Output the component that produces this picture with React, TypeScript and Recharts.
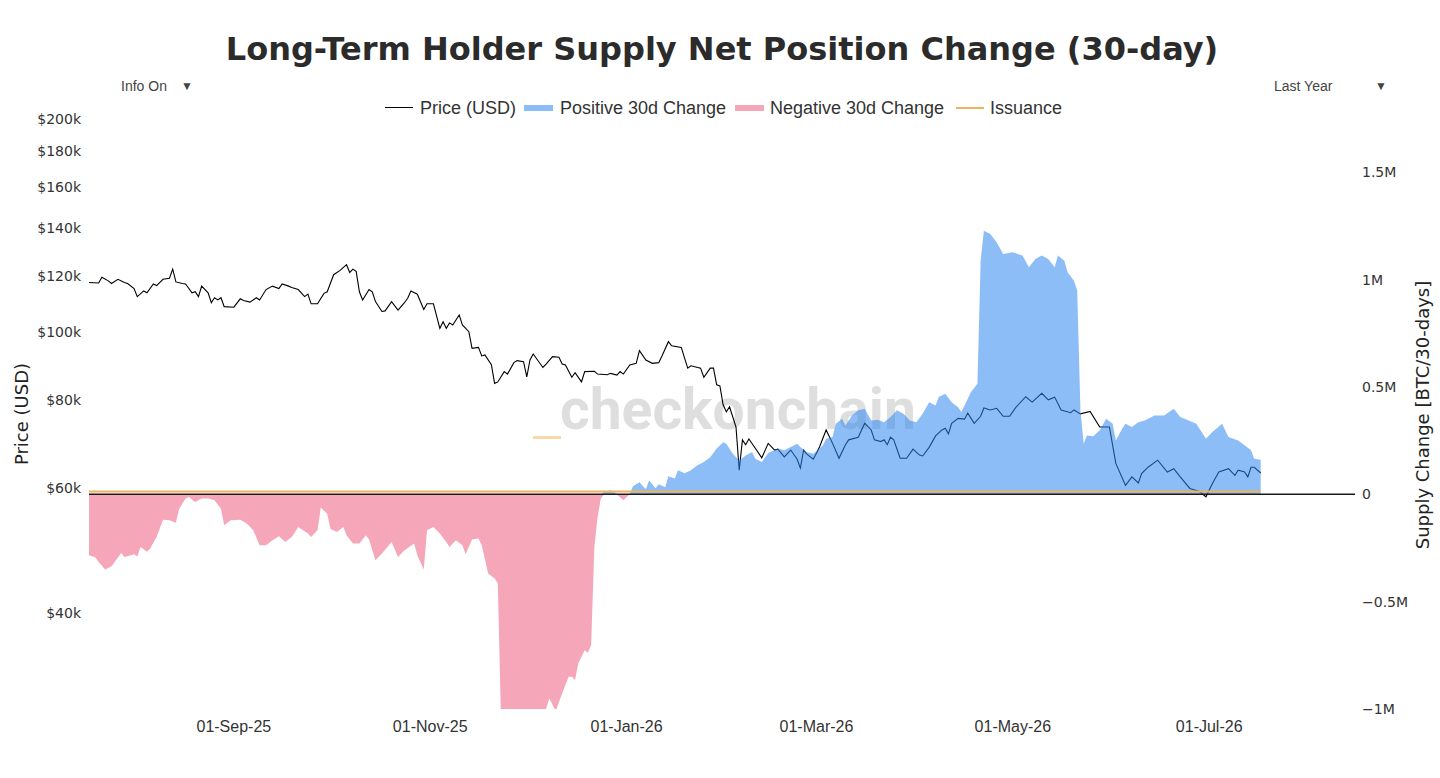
import React from "react";
import { ComposedChart, Line, Area, XAxis, YAxis, ReferenceLine } from "recharts";

// Day 0 of every series is 18-Jul-2025
const START_UTC = Date.UTC(2025, 6, 18);
const DAY_MS = 86400000;
const MONTHS = ["Jan", "Feb", "Mar", "Apr", "May", "Jun", "Jul", "Aug", "Sep", "Oct", "Nov", "Dec"];

// BTC price, USD thousands
const priceDays = [
  0, 3, 4, 6, 7, 9, 11, 12, 14, 15,
  17, 18, 20, 21, 23, 25, 26, 27, 29, 30,
  32, 33, 34, 35, 37, 38, 39, 40, 41, 42,
  45, 47, 48, 50, 52, 53, 55, 57, 59, 60,
  62, 63, 65, 67, 68, 69, 71, 73, 74, 76,
  78, 80, 81, 82, 83, 84, 85, 87, 88, 89,
  91, 92, 94, 96, 98, 99, 100, 102, 104, 105,
  107, 109, 110, 111, 112, 113, 115, 116, 118, 119,
  121, 122, 123, 125, 126, 127, 129, 130, 132, 133,
  135, 136, 137, 138, 141, 142, 144, 146, 147, 148,
  150, 151, 153, 154, 157, 158, 161, 162, 164, 165,
  166, 168, 170, 171, 173, 175, 177, 178, 180, 181,
  184, 186, 187, 190, 191, 193, 194, 195, 196, 197,
  198, 199, 201, 202, 203, 204, 205, 207, 209, 211,
  213, 214, 216, 218, 220, 221, 222, 223, 225, 226,
  227, 229, 231, 233, 235, 236, 239, 240, 241, 243,
  244, 246, 247, 248, 249, 250, 252, 254, 256, 258,
  259, 261, 263, 265, 266, 267, 268, 270, 272, 273,
  275, 277, 278, 280, 282, 284, 286, 288, 291, 293,
  296, 298, 300, 302, 305, 306, 308, 311, 314, 317,
  319, 322, 324, 326, 327, 329, 332, 335, 337, 339,
  342, 345, 347, 349, 351, 354, 356, 357, 359, 360,
  361, 362, 364,
];
const priceUsdK = [
  117.4, 117.2, 119.4, 118.0, 117.0, 118.6, 117.4, 117.0, 115.1, 112.1,
  114.2, 113.5, 116.8, 116.2, 118.6, 119.0, 122.6, 117.6, 117.0, 116.8,
  113.5, 113.9, 112.1, 116.0, 113.5, 109.9, 111.7, 110.9, 111.7, 108.5,
  108.3, 111.3, 110.7, 110.1, 111.7, 110.9, 114.7, 116.0, 115.1, 116.8,
  116.0, 115.5, 114.7, 112.1, 113.0, 109.5, 109.5, 113.3, 113.9, 120.4,
  122.1, 124.4, 121.3, 122.6, 121.7, 113.9, 110.9, 114.7, 113.9, 110.3,
  106.8, 107.0, 110.3, 107.3, 109.9, 111.5, 114.2, 113.0, 107.5, 109.5,
  109.5, 101.1, 103.3, 101.1, 102.9, 102.2, 105.6, 102.2, 100.0, 94.7,
  95.0, 92.4, 92.7, 89.8, 84.5, 84.9, 87.8, 87.1, 90.4, 91.0,
  90.7, 86.3, 91.2, 93.0, 89.0, 90.0, 92.2, 92.0, 90.0, 89.7,
  86.2, 87.5, 84.9, 87.8, 87.9, 87.1, 86.9, 87.3, 86.8, 87.8,
  87.1, 89.7, 90.2, 94.0, 91.2, 90.2, 90.4, 92.4, 96.8, 95.5,
  95.0, 88.8, 89.5, 88.8, 86.2, 88.8, 88.8, 84.1, 83.8, 78.8,
  77.0, 78.3, 73.3, 63.7, 70.3, 69.2, 70.5, 68.4, 66.3, 69.5,
  68.0, 68.2, 66.5, 68.0, 66.0, 64.1, 68.0, 67.1, 66.0, 67.3,
  68.8, 72.6, 69.5, 66.2, 69.2, 70.3, 70.9, 72.6, 74.2, 72.6,
  70.3, 69.9, 70.3, 69.2, 70.9, 70.3, 66.2, 66.2, 68.2, 66.9,
  66.7, 68.6, 71.2, 72.6, 73.0, 71.7, 74.2, 75.4, 75.2, 76.7,
  74.2, 75.9, 78.0, 77.5, 77.9, 75.9, 75.9, 78.2, 80.9, 79.5,
  81.8, 80.1, 80.8, 77.5, 76.8, 77.5, 76.5, 77.1, 73.3, 73.3,
  65.1, 60.6, 62.3, 61.1, 63.0, 64.3, 65.8, 63.3, 64.0, 62.3,
  60.0, 59.4, 58.4, 61.0, 63.3, 64.0, 62.6, 63.7, 63.3, 62.3,
  64.3, 64.3, 63.1,
];

// LTH supply 30-day net position change, thousand BTC
const supplyDays = [
  0, 2, 3, 5, 7, 10, 11, 13, 14, 15,
  16, 18, 19, 21, 23, 25, 27, 28, 30, 31,
  33, 35, 37, 39, 41, 42, 44, 47, 49, 51,
  53, 55, 57, 59, 61, 63, 65, 68, 69, 71,
  72, 74, 75, 77, 79, 80, 82, 84, 86, 87,
  89, 91, 94, 96, 98, 101, 102, 104, 105, 107,
  109, 111, 112, 114, 116, 117, 119, 121, 122, 124,
  126, 127, 128, 134, 141, 143, 145, 147, 149, 150,
  151, 152, 154, 155, 156, 157, 158, 159, 160, 162,
  164, 166, 168, 169, 171, 173, 174, 176, 177, 179,
  180, 182, 183, 185, 187, 189, 191, 193, 195, 197,
  198, 200, 202, 204, 206, 207, 209, 211, 214, 216,
  218, 220, 221, 223, 225, 228, 229, 231, 232, 234,
  235, 237, 239, 241, 243, 245, 247, 249, 251, 253,
  255, 257, 259, 261, 263, 264, 266, 268, 270, 271,
  272, 274, 276, 277, 278, 280, 282, 284, 287, 290,
  292, 294, 296, 298, 300, 301, 303, 304, 306, 307,
  308, 309, 310, 312, 314, 316, 318, 319, 321, 322,
  324, 326, 328, 331, 334, 337, 339, 342, 344, 347,
  349, 352, 354, 357, 359, 361, 362, 364,
];
const supplyChangeK = [
  -284, -294, -315, -350, -335, -273, -292, -284, -279, -290,
  -245, -268, -253, -199, -118, -121, -133, -67, -20, -13,
  -36, -20, -20, -28, -67, -144, -121, -118, -136, -167,
  -237, -237, -214, -195, -222, -199, -152, -183, -199, -167,
  -62, -90, -160, -175, -152, -191, -229, -229, -191, -211,
  -307, -276, -222, -292, -260, -229, -284, -350, -167, -152,
  -183, -222, -245, -214, -237, -279, -211, -206, -237, -369,
  -392, -414, -1050, -1100, -1050, -950, -1010, -927, -850, -850,
  -865, -787, -726, -738, -702, -245, -106, -20, 11, 19,
  3, -28, 3, 37, 56, 23, 65, 28, 47, 33,
  84, 74, 112, 98, 112, 135, 150, 173, 213, 243,
  236, 189, 158, 181, 197, 166, 150, 192, 213, 205,
  220, 236, 220, 197, 189, 228, 259, 267, 329, 352,
  321, 367, 391, 399, 344, 347, 336, 360, 391, 375,
  344, 336, 375, 429, 414, 453, 468, 429, 406, 383,
  414, 476, 515, 1088, 1228, 1213, 1173, 1119, 1127, 1112,
  1057, 1096, 1112, 1096, 1057, 1112, 1088, 1034, 995, 949,
  391, 236, 274, 270, 298, 352, 329, 251, 306, 329,
  313, 336, 344, 367, 367, 399, 360, 341, 329, 259,
  290, 329, 267, 251, 228, 205, 166, 161,
];

// miner issuance over 30 days, thousand BTC
const issuance30dK = 13.5;

const dateTicks = [45, 106, 167, 226, 287, 348];
const priceTicks = [40, 60, 80, 100, 120, 140, 160, 180, 200];
const supplyTicks = [-1000, -500, 0, 500, 1000, 1500];

const X_DOMAIN: [number, number] = [0, 393.3];
const PRICE_DOMAIN: [number, number] = [29.25, 205.9];
const SUPPLY_DOMAIN: [number, number] = [-1000, 1790];

const priceRows = priceDays.map((day, i) => ({ day, price: priceUsdK[i] }));
const supplyRows = supplyDays.map((day, i) => ({
  day,
  pos: Math.max(supplyChangeK[i], 0),
  neg: Math.min(supplyChangeK[i], 0),
  issuance: issuance30dK,
}));

const fmtDate = (d: number) => {
  const dt = new Date(START_UTC + d * DAY_MS);
  const dd = String(dt.getUTCDate()).padStart(2, "0");
  return `${dd}-${MONTHS[dt.getUTCMonth()]}-${String(dt.getUTCFullYear()).slice(2)}`;
};
const fmtPrice = (v: number) => `$${v}k`;
const fmtSupply = (v: number) => {
  if (v === 0) return "0";
  return `${v < 0 ? "\u2212" : ""}${Math.abs(v) / 1000}M`;
};

const VERDANA = "'DejaVu Sans', Verdana, sans-serif";
const ARIAL = "'Liberation Sans', Arial, sans-serif";

const BLUE = "#2F86F0";
const PINK = "#F06A8A";
const ORANGE = "#F0B25C";

const W = 1440;
const H = 778;
// plot box: x 89..1355, y 110..709
const PLOT_MARGIN = { top: 110, right: 85, bottom: 69, left: 89 };

const abs = (left: number, top: number): React.CSSProperties => ({ position: "absolute", left, top });

function LegendBar() {
  const text: React.CSSProperties = { fontFamily: ARIAL, fontSize: 18, color: "#333", whiteSpace: "nowrap", lineHeight: "20px" };
  return (
    <>
      <div style={{ ...abs(385, 107), width: 28, height: 1, background: "#000" }} />
      <div style={{ ...abs(420, 98), ...text }}>Price (USD)</div>
      <div style={{ ...abs(524, 105), width: 29, height: 6, background: BLUE, opacity: 0.55 }} />
      <div style={{ ...abs(560, 98), ...text }}>Positive 30d Change</div>
      <div style={{ ...abs(735, 105), width: 29, height: 6, background: PINK, opacity: 0.6 }} />
      <div style={{ ...abs(770, 98), ...text }}>Negative 30d Change</div>
      <div style={{ ...abs(956, 107), width: 28, height: 2, background: ORANGE }} />
      <div style={{ ...abs(990, 98), ...text }}>Issuance</div>
    </>
  );
}

// axes and the price line; drawn first so the supply fills sit on top of it
function PriceLayer() {
  const tickY = { fill: "#333", fontSize: 14, fontFamily: VERDANA };
  return (
    <ComposedChart width={W} height={H} margin={{ top: 110, right: 25, bottom: 29, left: 0 }}>
      <XAxis
        type="number"
        dataKey="day"
        domain={X_DOMAIN}
        ticks={dateTicks}
        tickFormatter={fmtDate}
        allowDataOverflow
        height={40}
        axisLine={false}
        tickLine={false}
        tickSize={0}
        tickMargin={12}
        tick={{ fill: "#333", fontSize: 16, fontFamily: ARIAL }}
      />
      <YAxis
        yAxisId="price"
        orientation="left"
        scale="log"
        domain={PRICE_DOMAIN}
        ticks={priceTicks}
        tickFormatter={fmtPrice}
        allowDataOverflow
        width={89}
        axisLine={false}
        tickLine={false}
        tickSize={0}
        tickMargin={8}
        tick={tickY}
      />
      <YAxis
        yAxisId="supply"
        orientation="right"
        domain={SUPPLY_DOMAIN}
        ticks={supplyTicks}
        tickFormatter={fmtSupply}
        allowDataOverflow
        width={60}
        axisLine={false}
        tickLine={false}
        tickSize={0}
        tickMargin={7}
        tick={{ ...tickY, textAnchor: "start" }}
      />
      <Line
        yAxisId="price"
        data={priceRows}
        dataKey="price"
        type="linear"
        stroke="#000"
        strokeWidth={1.1}
        dot={false}
        isAnimationActive={false}
      />
    </ComposedChart>
  );
}

function SupplyLayer() {
  return (
    <ComposedChart width={W} height={H} margin={PLOT_MARGIN}>
      <XAxis type="number" dataKey="day" domain={X_DOMAIN} allowDataOverflow hide />
      <YAxis yAxisId="supply" domain={SUPPLY_DOMAIN} allowDataOverflow hide />
      <ReferenceLine yAxisId="supply" y={0} stroke="#1a1a1a" strokeWidth={1.5} />
      <Line
        yAxisId="supply"
        data={supplyRows}
        dataKey="issuance"
        type="linear"
        stroke={ORANGE}
        strokeWidth={2}
        dot={false}
        isAnimationActive={false}
      />
      <Area
        yAxisId="supply"
        data={supplyRows}
        dataKey="neg"
        type="linear"
        baseValue={0}
        stroke="none"
        fill={PINK}
        fillOpacity={0.6}
        isAnimationActive={false}
      />
      <Area
        yAxisId="supply"
        data={supplyRows}
        dataKey="pos"
        type="linear"
        baseValue={0}
        stroke="none"
        fill={BLUE}
        fillOpacity={0.55}
        isAnimationActive={false}
      />
    </ComposedChart>
  );
}

export default function App() {
  const small: React.CSSProperties = { fontFamily: ARIAL, fontSize: 14, color: "#444", whiteSpace: "nowrap", lineHeight: "18px" };
  const axisTitle: React.CSSProperties = {
    position: "absolute",
    transform: "translate(-50%, -50%) rotate(-90deg)",
    fontFamily: VERDANA,
    fontSize: 18,
    color: "#222",
    whiteSpace: "nowrap",
  };

  return (
    <div style={{ position: "absolute", left: 0, top: 0, width: W, height: H, background: "#fff", overflow: "hidden" }}>
      {/* watermark sits under the plot */}
      <div
        style={{
          ...abs(560, 381),
          fontFamily: "Roboto, sans-serif",
          fontWeight: 700,
          fontSize: 57,
          lineHeight: "57px",
          color: "#dedede",
          whiteSpace: "nowrap",
        }}
      >
        checkonchain
      </div>
      <div style={{ ...abs(533, 436), width: 28, height: 3, background: "#F7D9A8" }} />

      <div
        style={{
          position: "absolute",
          left: 2,
          top: 29,
          width: W,
          textAlign: "center",
          fontFamily: VERDANA,
          fontWeight: 700,
          fontSize: 32,
          lineHeight: "40px",
          color: "#2b2b2b",
        }}
      >
        Long-Term Holder Supply Net Position Change (30-day)
      </div>

      <div style={{ ...abs(121, 77), ...small }}>Info On</div>
      <div style={{ ...abs(181, 77), ...small, fontSize: 12 }}>▼</div>
      <div style={{ ...abs(1274, 77), ...small }}>Last Year</div>
      <div style={{ ...abs(1375, 77), ...small, fontSize: 12 }}>▼</div>

      <LegendBar />

      <div style={{ ...axisTitle, left: 21, top: 414 }}>Price (USD)</div>
      <div style={{ ...axisTitle, left: 1422, top: 415 }}>Supply Change [BTC/30-days]</div>

      <div style={{ position: "absolute", left: 0, top: 0 }}>
        <PriceLayer />
      </div>
      <div style={{ position: "absolute", left: 0, top: 0 }}>
        <SupplyLayer />
      </div>
    </div>
  );
}
